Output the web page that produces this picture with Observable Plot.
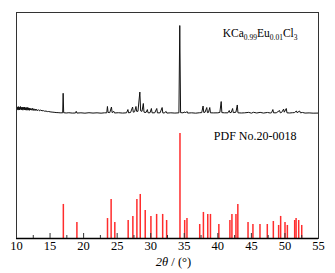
<!DOCTYPE html>
<html><head><meta charset="utf-8">
<script src="https://cdn.jsdelivr.net/npm/d3@7"></script>
<script src="https://cdn.jsdelivr.net/npm/@observablehq/plot@0.6"></script>
<style>body{margin:0;background:#fff}#chart{width:335px;height:273px}</style>
</head><body><div id="chart"></div>
<script>
// Reference pattern PDF No.20-0018 (2θ, relative intensity)
const refAngles = [16.98,19.0,23.56,24.1,24.65,26.64,27.34,27.94,28.44,29.18,30.03,30.88,31.78,32.37,34.36,35.06,35.4,37.3,37.85,38.5,38.9,40.15,41.8,42.1,42.7,42.98,44.5,45.23,46.28,47.37,48.27,49.06,49.36,50.01,50.36,51.45,51.66,52.05,52.5];
const refIntensity = [32.4,15.2,19,37.1,15.2,17.1,21,37.1,41.9,26.7,21,22.9,22.9,17.1,100,17.1,19,13.3,24.8,22.9,22.9,13.3,17.1,22.9,22.9,32.4,15.2,13.3,13.3,13.3,16.2,12.4,21,15.2,12.4,17.1,19,17.1,12.4];

// Measured pattern KCa0.99Eu0.01Cl3 (2θ, relative intensity, max = 100)
const measAngles = [10.0,10.05,10.1,10.15,10.2,10.25,10.3,10.35,10.4,10.45,10.5,10.55,10.6,10.65,10.7,10.75,10.8,10.85,10.9,10.95,11.0,11.05,11.1,11.15,11.2,11.25,11.3,11.35,11.4,11.45,11.5,11.55,11.6,11.65,11.7,11.75,11.8,11.85,11.9,11.95,12.0,12.1,12.2,12.3,12.4,12.5,12.6,12.7,12.8,12.9,13.0,13.15,13.3,13.45,13.6,13.8,14.0,14.2,14.4,14.6,14.8,15.0,15.3,15.6,15.9,16.2,16.5,16.88,16.95,17.03,17.4,17.8,18.3,18.8,18.9,19.0,19.6,20.2,20.8,21.4,22.0,22.6,23.1,23.45,23.55,23.65,23.9,24.15,24.25,24.5,24.6,25.2,25.8,26.4,26.6,26.7,27.0,27.3,27.4,27.6,27.8,27.9,28.1,28.38,28.5,28.7,28.9,29.0,29.3,29.5,29.6,29.9,30.1,30.2,30.6,30.9,31.0,31.4,31.7,31.8,32.0,32.3,32.4,33.0,33.6,34.2,34.33,34.45,34.8,35.1,35.2,35.4,35.5,36.1,36.7,37.3,37.6,37.8,37.9,38.1,38.35,38.45,38.6,38.8,38.9,39.4,40.0,40.3,40.5,40.6,41.0,41.5,41.7,41.8,42.0,42.2,42.3,42.7,42.9,43.0,43.5,44.0,44.6,45.0,45.3,45.8,46.3,46.8,47.4,47.8,48.0,48.2,48.3,48.7,49.2,49.3,49.5,49.8,49.9,50.2,50.3,50.7,51.1,51.4,51.7,51.8,52.2,52.3,52.6,53.0,53.6,54.2,55.0];
const measIntensity = [6.8,4.2,7.6,4.8,6.9,3.9,7.8,5.2,6.4,4.1,7.5,4.6,7.9,5.0,6.2,4.3,7.4,4.9,6.8,3.8,7.2,5.1,6.6,4.0,7.3,4.7,6.1,3.9,6.9,4.5,6.4,3.7,7.0,4.6,5.9,3.8,6.5,4.2,5.8,3.6,6.2,4.0,5.6,3.7,5.9,3.5,5.4,3.6,5.0,3.3,4.8,3.2,4.4,3.0,3.9,3.1,3.3,2.6,2.8,2.2,2.3,1.9,1.6,1.4,1.1,1.0,0.8,0.8,23,0.9,0.6,0.9,0.5,0.6,2.5,0.5,0.8,0.4,0.9,0.5,0.8,0.4,0.8,0.8,8,1.2,1,7.4,1,2.5,0.6,0.9,0.5,0.8,4.5,0.8,1.2,7.4,1.5,2,8,2.5,2.5,24.4,3,2.5,11.4,1.5,1.2,4.5,0.8,0.9,5.7,0.8,0.8,5.7,0.7,0.8,6.8,0.7,0.6,2.3,0.5,0.8,0.5,0.8,100,1,0.8,1.8,0.7,2.3,0.5,0.8,0.4,0.9,1,8.5,1.2,1.5,6.8,1,1.2,6.8,0.8,0.7,0.8,1.2,13.6,1,0.8,0.8,3.4,1,1.2,5.7,1,1.5,9.7,0.8,0.6,0.8,1.3,0.4,1.4,0.6,1.3,0.5,1.2,0.6,0.9,4.5,0.8,0.8,3.4,0.8,1.2,5,1.5,5.7,0.8,0.6,0.9,1,2.8,1,2.8,0.8,1.2,0.5,0.7,0.4,0.5];

const xTicks = [10,15,20,25,30,35,40,45,50,55];
const xMinorTicks = [12.5,17.5,22.5,27.5,32.5,37.5,42.5,47.5,52.5];
const sampleLabel = "KCa0.99Eu0.01Cl3";
const refLabel = "PDF No.20-0018";
const xLabel = "2θ / (°)";

const measOffset = 118.9;   // vertical stacking offset of measured curve
const measScale = 0.837;    // scale of measured curve relative to reference

const refData = refAngles.map((a, i) => ({angle: a, intensity: refIntensity[i]}));
const measData = measAngles.map((a, i) => ({angle: a, y: measOffset + measIntensity[i] * measScale}));

const chart = Plot.plot({
  width: 335,
  height: 273,
  marginLeft: 16,
  marginRight: 17,
  marginTop: 12,
  marginBottom: 35,
  style: {fontFamily: "'Liberation Serif', 'Times New Roman', serif", fontSize: "12.5px", background: "#fff", color: "#000"},
  x: {domain: [10, 55]},
  y: {domain: [0, 215], axis: null},
  marks: [
    Plot.ruleX(refData, {x: "angle", y1: 0, y2: "intensity", stroke: "#ff2c2c", strokeWidth: 1.5}),
    Plot.line(measData, {x: "angle", y: "y", stroke: "#111", strokeWidth: 1}),
    Plot.frame({stroke: "#333", strokeWidth: 1}),
    Plot.ruleY([0], {stroke: "#000", strokeWidth: 1.6}),
    Plot.axisX(xTicks, {tickSize: -5, text: null, label: null, stroke: "#333"}),
    Plot.axisX(xMinorTicks, {tickSize: -3, text: null, label: null, stroke: "#333"}),
    Plot.axisX(xTicks, {tickSize: 0, tickPadding: 3, label: null, fontSize: 12.5, tickFormat: d => String(d)}),
    Plot.text([sampleLabel], {frameAnchor: "top-right", dx: -21, dy: 21, textAnchor: "end", lineAnchor: "middle", fontSize: 11.5}),
    Plot.text([refLabel], {frameAnchor: "top-right", dx: -22, dy: 124, textAnchor: "end", lineAnchor: "middle", fontSize: 12}),
    Plot.text([xLabel], {frameAnchor: "bottom", dx: 6, dy: 23, lineAnchor: "middle", fontSize: 12.5})
  ]
});
document.getElementById("chart").appendChild(chart);

const svg = d3.select(chart);
svg.selectAll("text").filter(function() { return this.textContent === sampleLabel; }).each(function() {
  const t = d3.select(this);
  t.text(null);
  const parts = [["KCa", false], ["0.99", true], ["Eu", false], ["0.01", true], ["Cl", false], ["3", true]];
  let sub = false;
  for (const [s, isSub] of parts) {
    const ts = t.append("tspan").text(s);
    if (isSub && !sub) { ts.attr("dy", 3).attr("font-size", 7.5); sub = true; }
    else if (isSub) { ts.attr("font-size", 7.5); }
    else if (!isSub && sub) { ts.attr("dy", -3); sub = false; }
  }
});
svg.selectAll("text").filter(function() { return this.textContent === xLabel; }).each(function() {
  const t = d3.select(this);
  t.text(null);
  t.append("tspan").attr("font-style", "italic").text("2θ");
  t.append("tspan").text(" / (°)");
});
</script>
</body></html>
